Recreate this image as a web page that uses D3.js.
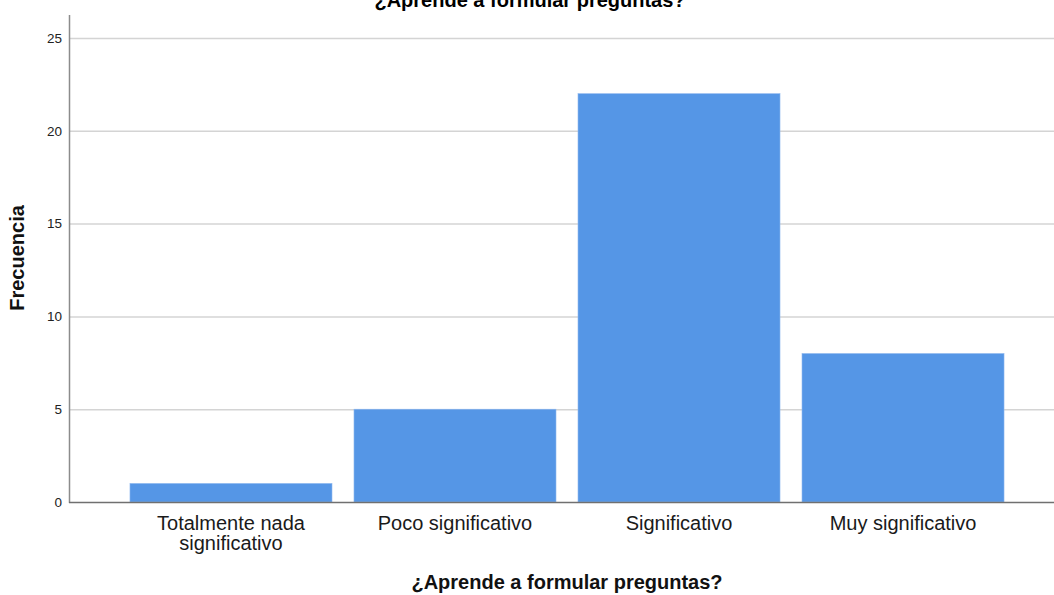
<!DOCTYPE html>
<html><head><meta charset="utf-8">
<script src="https://cdn.jsdelivr.net/npm/d3@7"></script>
<style>body{margin:0;background:#fff}svg{display:block}</style>
</head><body>
<svg id="c" width="1054" height="595"></svg>
<script>
const categories = ["Totalmente nada\nsignificativo", "Poco significativo", "Significativo", "Muy significativo"];
const values = [1, 5, 22, 8];
const yTicks = [0, 5, 10, 15, 20, 25];
const title = "¿Aprende a formular preguntas?";
const xTitle = "¿Aprende a formular preguntas?";
const yTitle = "Frecuencia";

(function () {
const svg = d3.select("#c");
const font = "'Liberation Sans', Arial, sans-serif";
const pLeft = 69, pRight = 1054, pTop = 15, pBottom = 502;

const x = d3.scaleBand().domain(categories).range([119, 1015]).paddingInner(0.0982).paddingOuter(0.049);
const y = d3.scaleLinear().domain([0, 25]).range([pBottom, 38]);

// gridlines
svg.append("g").selectAll("line").data(yTicks.filter(d => d > 0)).join("line")
  .attr("x1", pLeft).attr("x2", pRight)
  .attr("y1", d => y(d) + 0.5).attr("y2", d => y(d) + 0.5)
  .attr("stroke", "#d4d4d4").attr("stroke-width", 1.5);

// bars
svg.append("g").selectAll("rect").data(values).join("rect")
  .attr("x", (d, i) => x(categories[i]))
  .attr("y", d => y(d))
  .attr("width", x.bandwidth())
  .attr("height", d => y(0) - y(d))
  .attr("fill", "#5596e6")
  .attr("stroke", "#8fb8ee").attr("stroke-width", 0.6);

// y axis
const ya = d3.axisLeft(y).tickValues(yTicks).tickSize(0).tickPadding(7);
const yg = svg.append("g").attr("transform", `translate(${pLeft},0)`).call(ya);
yg.select(".domain").remove();
yg.selectAll("text").attr("font-family", font).attr("font-size", 13.5).attr("fill", "#222");
svg.append("line").attr("x1", pLeft + 0.5).attr("x2", pLeft + 0.5).attr("y1", pTop).attr("y2", pBottom + 1)
  .attr("stroke", "#8c8c8c").attr("stroke-width", 1.5);

// x axis
const xa = d3.axisBottom(x).tickSize(0).tickFormat("");
const xg = svg.append("g").attr("transform", `translate(0,${pBottom})`).call(xa);
xg.select(".domain").remove();
svg.append("line").attr("x1", pLeft).attr("x2", pRight).attr("y1", pBottom + 0.5).attr("y2", pBottom + 0.5)
  .attr("stroke", "#707070").attr("stroke-width", 1.5);

const lbl = svg.append("g");
categories.forEach(c => {
  const t = lbl.append("text").attr("x", x(c) + x.bandwidth() / 2).attr("y", 530)
    .attr("text-anchor", "middle").attr("font-family", font).attr("font-size", 20).attr("fill", "#1a1a1a");
  c.split("\n").forEach((line, j) => {
    t.append("tspan").attr("x", x(c) + x.bandwidth() / 2).attr("dy", j === 0 ? 0 : 20).text(line);
  });
});

// titles
svg.append("text").attr("x", 530).attr("y", 7).attr("text-anchor", "middle")
  .attr("font-family", font).attr("font-weight", "bold").attr("font-size", 20).attr("fill", "#000").text(title);
svg.append("text").attr("x", 567).attr("y", 589).attr("text-anchor", "middle")
  .attr("font-family", font).attr("font-weight", "bold").attr("font-size", 20).attr("fill", "#111").text(xTitle);
svg.append("text").attr("transform", "translate(24,258) rotate(-90)").attr("text-anchor", "middle")
  .attr("font-family", font).attr("font-weight", "bold").attr("font-size", 20).attr("fill", "#111").text(yTitle);
})();
</script>
</body></html>
